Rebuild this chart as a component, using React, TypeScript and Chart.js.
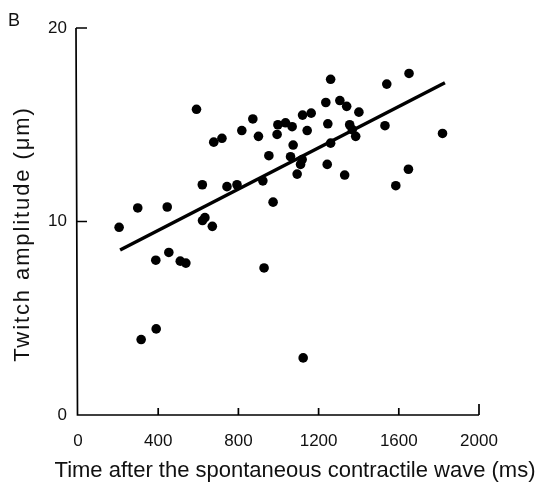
import React, { useEffect, useRef } from "react";
import { Chart, registerables } from "chart.js";

Chart.register(...registerables);

// Data
const timeMs = [
  591, 872, 817, 900, 677, 718, 997, 1035, 993, 952, 620, 743, 793, 922, 973,
  298, 445, 205, 621, 633, 670, 453, 388, 510, 538, 928, 390, 315,
  1260, 1651, 1540, 1236, 1306, 1340, 1401, 1120, 1163, 1068, 1143, 1246, 1355,
  1368, 1385, 1531, 1818, 1073, 1260, 1060, 1118, 1110, 1093, 1243, 1330, 1648,
  1585, 1123,
];
const amplitude = [
  15.8, 15.3, 14.7, 14.4, 14.1, 14.3, 15.0, 15.1, 14.5, 13.4, 11.9, 11.8, 11.9, 12.1, 11.0,
  10.7, 10.75, 9.7, 10.05, 10.2, 9.75, 8.4, 8.0, 7.95, 7.85, 7.6, 4.45, 3.9,
  17.35, 17.65, 17.1, 16.15, 16.25, 15.95, 15.65, 15.5, 15.6, 14.9, 14.7, 15.05, 15.0,
  14.75, 14.4, 14.95, 14.55, 13.95, 14.05, 13.35, 13.2, 12.95, 12.45, 12.95, 12.4, 12.7,
  11.85, 2.95,
];
const fitTime = [210, 1830];
const fitAmp = [8.53, 17.17];
const xTicks = [0, 400, 800, 1200, 1600, 2000];
const yTicks = [0, 10, 20];
const xTitle = "Time after the spontaneous contractile wave (ms)";
const yTitle = "Twitch amplitude (\u03bcm)";
const panelLabel = "B";

const FONT = "'Liberation Sans', Arial, Helvetica, sans-serif";

const decor = {
  id: "decor",
  afterDraw(chart: any) {
    const ctx = chart.ctx as CanvasRenderingContext2D;
    const xs = chart.scales.x;
    const ys = chart.scales.y;
    const x0 = xs.getPixelForValue(xTicks[0]);
    const x1 = xs.getPixelForValue(xTicks[xTicks.length - 1]);
    const y0 = ys.getPixelForValue(yTicks[0]);
    const y1 = ys.getPixelForValue(yTicks[yTicks.length - 1]);
    ctx.save();
    ctx.strokeStyle = "#000";
    ctx.lineWidth = 1.7;
    ctx.beginPath();
    ctx.moveTo(x0 - 2, y1);
    ctx.lineTo(x0 - 0.5, y0);
    ctx.lineTo(x1, y0);
    ctx.stroke();
    // inward y ticks
    ctx.beginPath();
    yTicks.slice(1).forEach((v) => {
      const py = ys.getPixelForValue(v);
      ctx.moveTo(x0 - 2, py);
      ctx.lineTo(x0 + 9, py);
    });
    // inward x ticks
    xTicks.slice(1).forEach((v, i) => {
      const px = xs.getPixelForValue(v);
      ctx.moveTo(px, y0);
      ctx.lineTo(px, y0 - (i === xTicks.length - 2 ? 11 : 7));
    });
    ctx.stroke();

    ctx.fillStyle = "#111";
    // panel label
    ctx.font = `18px ${FONT}`;
    ctx.textAlign = "center";
    ctx.textBaseline = "middle";
    ctx.fillText(panelLabel, 14, 21);
    // x title
    ctx.font = `22px ${FONT}`;
    ctx.fillText(xTitle, 295, 471);
    // y title
    ctx.translate(23, 234);
    ctx.rotate(-Math.PI / 2);
    (ctx as any).letterSpacing = "1.9px";
    ctx.fillText(yTitle, 0, 0);
    ctx.restore();
  },
};

export default function App() {
  const ref = useRef<HTMLCanvasElement | null>(null);
  useEffect(() => {
    if (!ref.current) return;
    const chart = new Chart(ref.current, {
      type: "scatter",
      data: {
        datasets: [
          {
            label: "points",
            data: timeMs.map((t, i) => ({ x: t, y: amplitude[i] })),
            backgroundColor: "#000",
            borderWidth: 0,
            pointRadius: 4.8,
            pointHoverRadius: 4.8,
          },
          {
            label: "fit",
            type: "line",
            data: fitTime.map((t, i) => ({ x: t, y: fitAmp[i] })),
            borderColor: "#000",
            borderWidth: 3.5,
            pointRadius: 0,
            showLine: true,
            fill: false,
          } as any,
        ],
      },
      options: {
        responsive: false,
        animation: false,
        events: [],
        layout: { padding: { top: 28, right: 58, left: 0, bottom: 0 } },
        plugins: { legend: { display: false }, tooltip: { enabled: false } },
        scales: {
          x: {
            type: "linear",
            min: 0,
            max: 2000,
            afterBuildTicks: (s: any) => {
              s.ticks = xTicks.map((v) => ({ value: v }));
            },
            afterFit: (s: any) => {
              s.height = 68;
            },
            grid: { display: false, drawTicks: false },
            border: { display: false },
            ticks: {
              color: "#111",
              font: { family: FONT, size: 17 },
              padding: 16,
              maxRotation: 0,
              autoSkip: false,
              callback: (v: any) => String(v),
            },
          },
          y: {
            type: "linear",
            min: 0,
            max: 20,
            afterBuildTicks: (s: any) => {
              s.ticks = yTicks.map((v) => ({ value: v }));
            },
            afterFit: (s: any) => {
              s.width = 78;
            },
            grid: { display: false, drawTicks: false },
            border: { display: false },
            ticks: {
              color: "#111",
              font: { family: FONT, size: 17 },
              padding: 11,
              autoSkip: false,
              callback: (v: any) => String(v),
            },
          },
        },
      },
      plugins: [decor],
    });
    return () => chart.destroy();
  }, []);
  return (
    <div style={{ position: "absolute", left: 0, top: 0, width: 537, height: 483, background: "#fff" }}>
      <canvas ref={ref} width={537} height={483} style={{ display: "block" }} />
    </div>
  );
}
